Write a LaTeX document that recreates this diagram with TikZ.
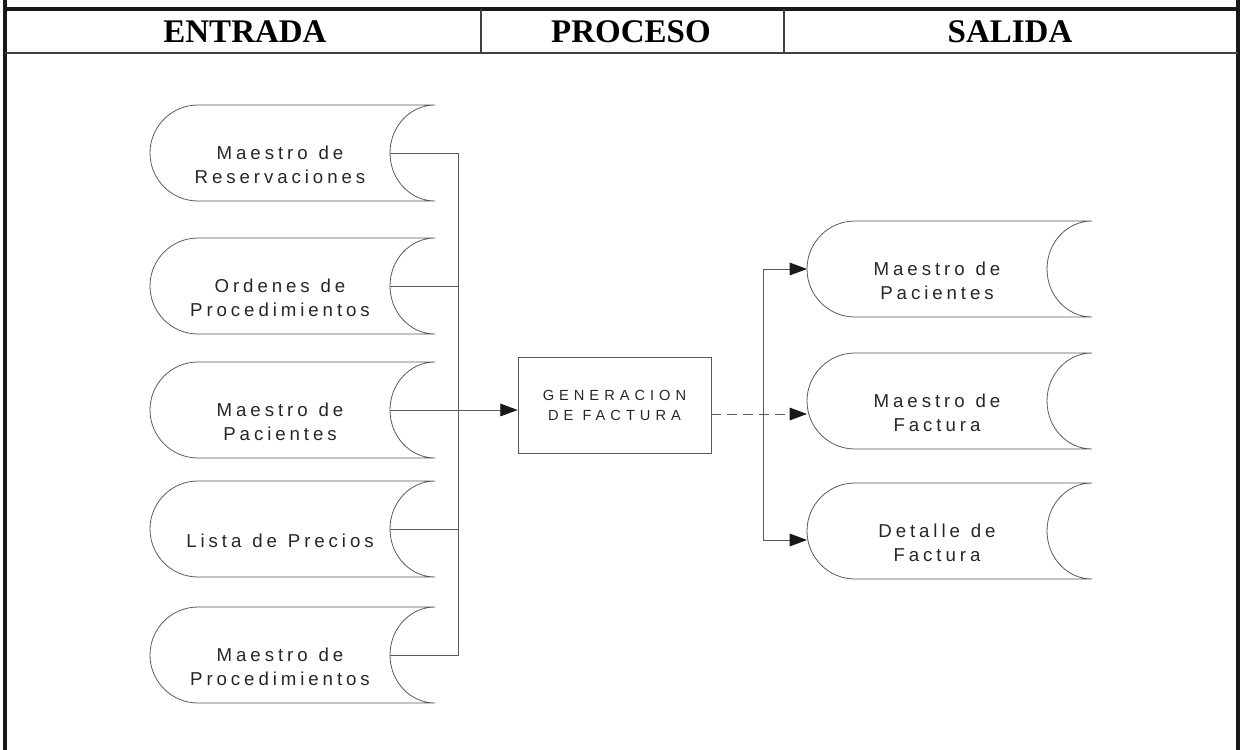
\documentclass[tikz,border=0pt]{standalone}
\usepackage{fontspec}
\setmainfont{Liberation Serif}
\newfontfamily\storefont[LetterSpace=21,WordSpace=1.2]{Liberation Sans}
\newfontfamily\procfont[LetterSpace=34]{Liberation Sans}
\usetikzlibrary{calc,arrows.meta}
\tikzset{
  frameline/.style={line width=3pt,black!90},
  thinframe/.style={line width=1pt,black!75},
  shapeline/.style={line width=0.6pt,black!65},
  conn/.style={line width=0.6pt,black!65},
  arr/.style={-{Triangle[length=13pt,width=9.5pt,color=black!90]}},
  storetext/.style={font=\storefont\fontsize{14}{18}\selectfont,align=center,text=black!85,inner sep=0pt},
  headtext/.style={font=\bfseries\fontsize{24.75}{28}\selectfont,inner sep=0pt},
  procbox/.style={draw=black!65,line width=0.6pt,minimum width=144.75pt,minimum height=72pt,inner sep=0pt,
    font=\procfont\fontsize{11}{15}\selectfont,align=center,text=black!85},
}
\newcommand\dbstore[4]{%
  \coordinate (#1) at (#2,#3);
  \node[storetext] (#1-t) at ($(#1)+(0,12)$) {#4};
  \draw[shapeline] ($(#1)+(155,-48)$) -- ($(#1)+(-82,-48)$)
    arc[start angle=90,end angle=270,x radius=36pt,y radius=36pt]
    -- ($(#1)+(155,48)$)
    arc[start angle=270,end angle=90,x radius=33.75pt,y radius=36pt];
  \coordinate (#1-in) at ($(#1)+(110,0)$);
  \coordinate (#1-w) at ($(#1)+(-130,0)$);
}
\begin{document}
\begin{tikzpicture}[x=0.75pt,y=-0.75pt]
\useasboundingbox (0,0) rectangle (1248,749);
% frame
\coordinate (fTL) at (5,0);
\coordinate (fBL) at (5,752);
\coordinate (fTR) at (1238,0);
\coordinate (fBR) at (1238,752);
\draw[frameline] (fTL) -- (fBL);
\draw[frameline] (fTR) -- (fBR);
\coordinate (hT1) at (5,9);
\coordinate (hT2) at (1238,9);
\draw[frameline] (hT1) -- (hT2);
\coordinate (hB1) at (5,53);
\coordinate (hB2) at (1238,53);
\draw[thinframe] (hB1) -- (hB2);
\coordinate (d1t) at (481,9);
\coordinate (d1b) at (481,53);
\coordinate (d2t) at (784,9);
\coordinate (d2b) at (784,53);
\draw[thinframe] (d1t) -- (d1b);
\draw[thinframe] (d2t) -- (d2b);
\node[headtext] (hEntrada) at (245,32) {ENTRADA};
\node[headtext] (hProceso) at (631,32) {PROCESO};
\node[headtext] (hSalida) at (1010,32) {SALIDA};
% left stores
\dbstore{L1}{280}{153}{Maestro de\\Reservaciones}
\dbstore{L2}{280}{286}{Ordenes de\\Procedimientos}
\dbstore{L3}{280}{410}{Maestro de\\Pacientes}
\dbstore{L4}{280}{529}{Lista de Precios}
\dbstore{L5}{280}{655}{Maestro de\\Procedimientos}
% right stores
\dbstore{R1}{937}{269}{Maestro de\\Pacientes}
\dbstore{R2}{937}{401}{Maestro de\\Factura}
\dbstore{R3}{937}{531}{Detalle de\\Factura}
% process
\node[procbox] (proc) at (614.5,405) {GENERACION\\DE FACTURA};
% left bus
\coordinate (busT) at (458,153);
\coordinate (busB) at (458,655);
\draw[conn] (L1-in) -- (busT) -- (busB) -- (L5-in);
\draw[conn] (L2-in) -- (L2-in -| busT);
\draw[conn] (L4-in) -- (L4-in -| busT);
\draw[conn,arr] (L3-in) -- (L3-in -| proc.west);
% right bus
\coordinate (jR1) at (763,269);
\coordinate (jR2) at (763,414);
\coordinate (jR3) at (763,540);
\draw[conn] (jR1) -- (jR3);
\draw[conn,arr] (jR1) -- (R1-w);
\draw[conn,arr,dash pattern=on 7pt off 5pt] (jR2 -| proc.east) -- (jR2 -| R2-w);
\draw[conn,arr] (jR3) -- (jR3 -| R3-w);
\end{tikzpicture}
\end{document}
